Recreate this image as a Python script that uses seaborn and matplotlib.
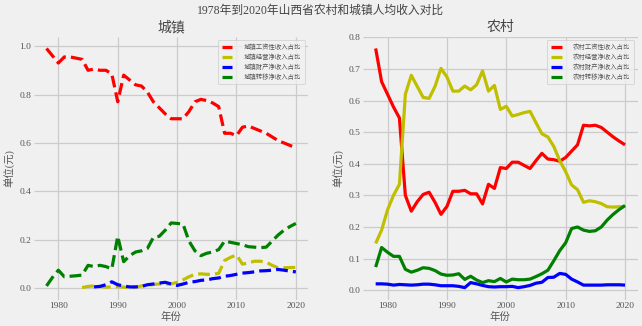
import numpy as np
import pandas as pd
import matplotlib
matplotlib.use("Agg")
import matplotlib.pyplot as plt
import seaborn as sns

plt.style.use("fivethirtyeight")
plt.rcParams["font.family"] = ["Liberation Serif", "Noto Sans CJK SC"]
plt.rcParams["axes.unicode_minus"] = False
plt.rcParams["text.color"] = "#444444"
plt.rcParams["axes.labelcolor"] = "#555555"
plt.rcParams["xtick.color"] = "#555555"
plt.rcParams["ytick.color"] = "#555555"

years = list(range(1978, 2021))
nan = np.nan

# 城镇收入构成占比
urban_wage = [0.99, 0.96, 0.93, 0.955, 0.955, 0.95, 0.945, 0.90, 0.905, 0.90,
              0.90, 0.885, 0.77, 0.88, 0.86, 0.84, 0.835, 0.81, 0.77, 0.745,
              0.72, 0.70, 0.70, 0.70, 0.73, 0.77, 0.78, 0.775, 0.765, 0.75,
              0.64, 0.64, 0.63, 0.665, 0.67, 0.66, 0.65, 0.64, 0.625, 0.61,
              0.60, 0.59, 0.58]
urban_business = [nan, nan, nan, nan, nan, nan, 0.003, 0.008, 0.01, 0.008,
                  0.005, 0.006, 0.007, 0.005, 0.003, 0.005, 0.01, 0.013, 0.016, 0.018,
                  0.018, 0.018, 0.025, 0.035, 0.048, 0.058, 0.06, 0.058, 0.058, 0.062,
                  0.115, 0.128, 0.138, 0.10, 0.105, 0.112, 0.112, 0.108, 0.095, 0.085,
                  0.085, 0.086, 0.086]
urban_property = [nan, nan, nan, nan, nan, nan, nan, nan, 0.006, 0.008,
                  0.015, 0.027, 0.015, 0.01, 0.006, 0.006, 0.008, 0.015, 0.018, 0.022,
                  0.025, 0.018, 0.012, 0.018, 0.025, 0.028, 0.033, 0.035, 0.04, 0.043,
                  0.05, 0.053, 0.058, 0.063, 0.065, 0.068, 0.072, 0.073, 0.075, 0.078,
                  0.075, 0.071, 0.068]
urban_transfer = [0.01, 0.045, 0.075, 0.048, 0.05, 0.052, 0.055, 0.095, 0.09, 0.095,
                  0.09, 0.08, 0.215, 0.11, 0.135, 0.15, 0.155, 0.165, 0.21, 0.215,
                  0.24, 0.27, 0.268, 0.265, 0.195, 0.155, 0.135, 0.145, 0.15, 0.16,
                  0.195, 0.19, 0.185, 0.18, 0.172, 0.17, 0.168, 0.17, 0.195, 0.22,
                  0.24, 0.255, 0.268]

# 农村收入构成占比
rural_wage = [0.765, 0.66, 0.62, 0.58, 0.545, 0.30, 0.25, 0.28, 0.303, 0.31,
              0.278, 0.24, 0.265, 0.313, 0.313, 0.316, 0.305, 0.305, 0.273, 0.335,
              0.322, 0.388, 0.385, 0.405, 0.405, 0.395, 0.385, 0.41, 0.433, 0.415,
              0.413, 0.408, 0.42, 0.44, 0.46, 0.522, 0.52, 0.522, 0.515, 0.50,
              0.485, 0.472, 0.46]
rural_business = [0.148, 0.19, 0.254, 0.30, 0.335, 0.62, 0.68, 0.645, 0.61, 0.607,
                  0.645, 0.702, 0.675, 0.63, 0.63, 0.646, 0.634, 0.65, 0.694, 0.63,
                  0.648, 0.572, 0.582, 0.551, 0.556, 0.562, 0.566, 0.53, 0.495, 0.485,
                  0.455, 0.41, 0.375, 0.333, 0.318, 0.278, 0.283, 0.28, 0.274, 0.264,
                  0.263, 0.264, 0.265]
rural_property = [0.02, 0.02, 0.019, 0.016, 0.018, 0.017, 0.016, 0.017, 0.019, 0.019,
                  0.017, 0.014, 0.014, 0.014, 0.012, 0.008, 0.024, 0.02, 0.015, 0.011,
                  0.01, 0.011, 0.011, 0.012, 0.008, 0.011, 0.015, 0.022, 0.025, 0.04,
                  0.041, 0.053, 0.05, 0.035, 0.026, 0.016, 0.016, 0.016, 0.016, 0.017,
                  0.017, 0.017, 0.016]
rural_transfer = [0.073, 0.135, 0.12, 0.107, 0.107, 0.066, 0.057, 0.063, 0.071, 0.069,
                  0.062, 0.051, 0.047, 0.048, 0.052, 0.034, 0.044, 0.032, 0.024, 0.03,
                  0.027, 0.037, 0.026, 0.035, 0.033, 0.033, 0.035, 0.043, 0.052, 0.063,
                  0.093, 0.125, 0.15, 0.195, 0.2, 0.19, 0.186, 0.188, 0.2, 0.222,
                  0.24, 0.255, 0.268]

urban_labels = ["城镇工资性收入占比", "城镇经营净收入占比", "城镇财产净收入占比", "城镇转移净收入占比"]
rural_labels = ["农村工资性收入占比", "农村经营净收入占比", "农村财产净收入占比", "农村转移净收入占比"]
colors = ["r", "y", "b", "g"]

urban = pd.DataFrame({"年份": years, urban_labels[0]: urban_wage, urban_labels[1]: urban_business,
                      urban_labels[2]: urban_property, urban_labels[3]: urban_transfer})
rural = pd.DataFrame({"年份": years, rural_labels[0]: rural_wage, rural_labels[1]: rural_business,
                      rural_labels[2]: rural_property, rural_labels[3]: rural_transfer})

fig, (ax1, ax2) = plt.subplots(1, 2, figsize=(6.42, 3.26), dpi=100)
fig.patch.set_facecolor("#f0f0f0")
fig.subplots_adjust(left=0.053, right=0.993, top=0.888, bottom=0.081, wspace=0.2)

for ax, df, labels, ls, title in [(ax1, urban, urban_labels, "--", "城镇"),
                                  (ax2, rural, rural_labels, "-", "农村")]:
    for lab, c in zip(labels, colors):
        sub = df[["年份", lab]].dropna()
        sns.lineplot(data=sub, x="年份", y=lab, ax=ax, color=c, linestyle=ls,
                     linewidth=2.3, label=lab)
    ax.set_title(title, fontsize=10, pad=4)
    ax.set_xlabel("年份", fontsize=7.5, labelpad=1)
    ax.set_ylabel("单位(元)", fontsize=7.5, labelpad=3)
    ax.set_xticks([1980, 1990, 2000, 2010, 2020])
    ax.tick_params(labelsize=6.8, pad=2, length=0)
    ax.grid(True, color="#cbcbcb", linewidth=0.9)
    for s in ax.spines.values():
        s.set_visible(False)
    leg = ax.legend(loc="upper right", fontsize=4.6, handlelength=1.7,
                    handletextpad=1.8, labelspacing=0.55, borderpad=0.6,
                    frameon=True, fancybox=True, labelcolor="#555555")
    leg.get_frame().set_facecolor("#f0f0f0")
    leg.get_frame().set_edgecolor("#cccccc")
    leg.get_frame().set_linewidth(0.6)

ax1.set_yticks([0.0, 0.2, 0.4, 0.6, 0.8, 1.0])
ax2.set_yticks([0.0, 0.1, 0.2, 0.3, 0.4, 0.5, 0.6, 0.7, 0.8])

fig.suptitle("1978年到2020年山西省农村和城镇人均收入对比", fontsize=8.5, y=0.985)

fig.savefig("out.png", dpi=100, facecolor=fig.get_facecolor())
